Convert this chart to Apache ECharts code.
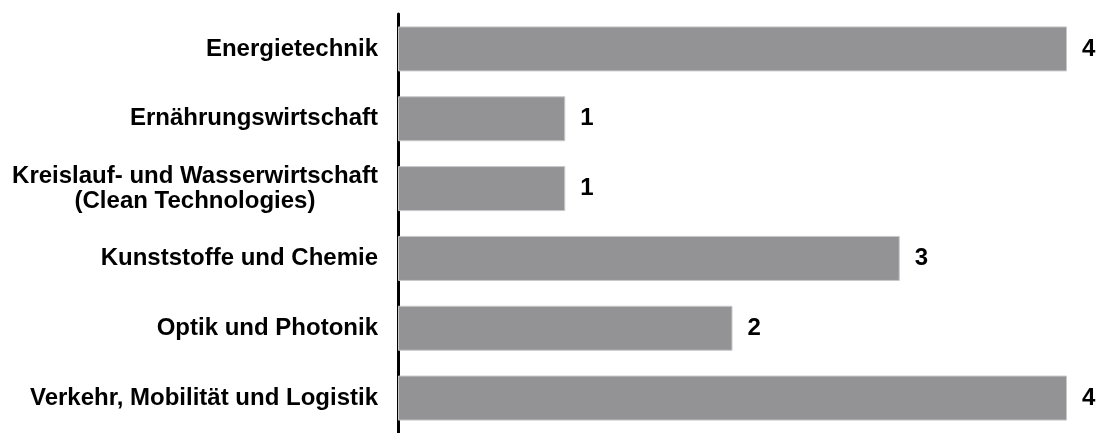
<!DOCTYPE html>
<html>
<head>
<meta charset="utf-8">
<script src="https://cdn.jsdelivr.net/npm/echarts@6/dist/echarts.min.js"></script>
<style>
html,body{margin:0;padding:0;background:#fff;}
#c{width:1097px;height:433px;}
</style>
</head>
<body>
<div id="c"></div>
<script>
const categories = [
  "Energietechnik",
  "Ernährungswirtschaft",
  "Kreislauf- und Wasserwirtschaft\n(Clean Technologies)",
  "Kunststoffe und Chemie",
  "Optik und Photonik",
  "Verkehr, Mobilität und Logistik"
];
const values = [4, 1, 1, 3, 2, 4];

const FONT = '"Liberation Sans", Arial, sans-serif';
const FS = 24;
const ctx = document.createElement('canvas').getContext('2d');
ctx.font = 'bold ' + FS + 'px ' + FONT;
function blockWidth(v) {
  return Math.ceil(Math.max.apply(null, v.split('\n').map(s => ctx.measureText(s).width)));
}

const chart = echarts.init(document.getElementById('c'), null, {renderer: 'canvas'});
chart.setOption({
  animation: false,
  backgroundColor: '#ffffff',
  grid: {left: 398, right: 30, top: 14, height: 425, containLabel: false},
  xAxis: {
    type: 'value', min: 0, max: 4, show: false
  },
  yAxis: {
    type: 'category',
    data: categories,
    inverse: true,
    axisLine: {show: true, lineStyle: {color: '#000', width: 3}},
    axisTick: {show: false},
    axisLabel: {
      margin: 20,
      color: '#000',
      fontFamily: FONT,
      fontWeight: 'bold',
      fontSize: FS,
      lineHeight: 25,
      formatter: function (v) {
        if (v.indexOf('\n') >= 0) {
          return v.split('\n').map(s => '{c|' + s + '}').join('\n');
        }
        return v;
      },
      rich: {
        c: {
          width: blockWidth(categories[2]), align: 'center',
          fontFamily: FONT, fontWeight: 'bold', fontSize: FS, lineHeight: 25, color: '#000'
        }
      }
    }
  },
  series: [{
    type: 'bar',
    data: values,
    barWidth: 45,
    itemStyle: {color: '#939396', borderColor: '#c8c8ca', borderWidth: 1},
    label: {
      show: true, position: 'right', distance: 15,
      color: '#000', fontFamily: FONT,
      fontWeight: 'bold', fontSize: FS
    }
  }]
});
</script>
</body>
</html>
